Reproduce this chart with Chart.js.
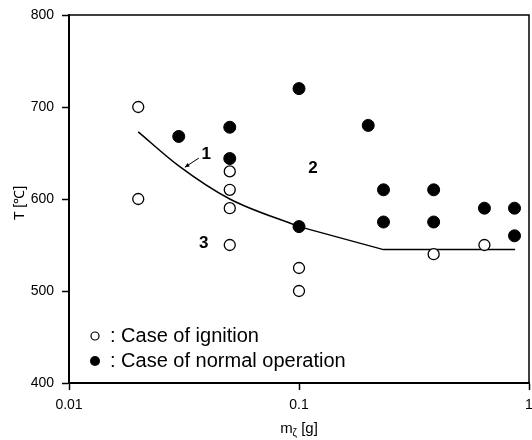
<!DOCTYPE html>
<html><head><meta charset="utf-8">
<script src="https://cdn.jsdelivr.net/npm/chart.js"></script>
<style>html,body{margin:0;padding:0;background:#fff}</style>
</head><body>
<canvas id="c" width="532" height="440"></canvas>
<script>
const ignitionMass = [0.02, 0.02, 0.05, 0.05, 0.05, 0.05, 0.1, 0.1, 0.385, 0.64];
const ignitionTemp = [700, 600, 630, 610, 590, 550, 525, 500, 540, 550];
const normalMass = [0.03, 0.05, 0.05, 0.1, 0.1, 0.2, 0.233, 0.233, 0.385, 0.385, 0.64, 0.865, 0.865];
const normalTemp = [668, 678, 644, 720, 570, 680, 610, 575, 610, 575, 590, 590, 560];
// boundary line 1: curved part, then straight part
const boundaryCurveMass = [0.02, 0.03, 0.05, 0.1];
const boundaryCurveTemp = [673, 636, 600, 570];
const boundaryStraightMass = [0.1, 0.233, 0.87];
const boundaryStraightTemp = [570, 545, 545];
const xTicks = [0.01, 0.1, 1];
const xTickLabels = ['0.01', '0.1', '1'];
const yTicks = [400, 500, 600, 700, 800];
const legendLabels = [': Case of ignition', ': Case of normal operation'];
const regionLabels = ['1', '2', '3'];

// annotation anchors (data units)
const regionAnchors = [{x: 0.0395, y: 650}, {x: 0.115, y: 635}, {x: 0.0385, y: 553}];
const leader = [{x: 0.0319, y: 634.5}, {x: 0.0367, y: 644.5}];

const FONT = '"Liberation Sans", Arial, Helvetica, sans-serif';
const zip = (xs, ys) => xs.map((v, i) => ({x: v, y: ys[i]}));

const decor = {
  id: 'decor',
  afterDraw(chart) {
    const {ctx, chartArea: a, scales: {x, y}} = chart;
    ctx.save();
    ctx.strokeStyle = '#000';
    ctx.fillStyle = '#000';
    // top & right frame
    ctx.lineWidth = 1.5;
    ctx.beginPath();
    ctx.moveTo(a.left, a.top); ctx.lineTo(a.right, a.top); ctx.lineTo(a.right, a.bottom);
    ctx.stroke();
    // leader line for label 1
    ctx.lineWidth = 1;
    const p0 = {x: x.getPixelForValue(leader[0].x), y: y.getPixelForValue(leader[0].y)};
    const p1 = {x: x.getPixelForValue(leader[1].x), y: y.getPixelForValue(leader[1].y)};
    ctx.beginPath(); ctx.moveTo(p0.x, p0.y); ctx.lineTo(p1.x, p1.y); ctx.stroke();
    const ang = Math.atan2(p1.y - p0.y, p1.x - p0.x);
    ctx.beginPath();
    ctx.moveTo(p0.x, p0.y);
    ctx.lineTo(p0.x + 5 * Math.cos(ang - 0.45), p0.y + 5 * Math.sin(ang - 0.45));
    ctx.lineTo(p0.x + 5 * Math.cos(ang + 0.45), p0.y + 5 * Math.sin(ang + 0.45));
    ctx.closePath(); ctx.fill();
    // region labels
    ctx.font = 'bold 17px ' + FONT;
    ctx.textAlign = 'center'; ctx.textBaseline = 'alphabetic';
    regionLabels.forEach((t, i) => {
      ctx.fillText(t, x.getPixelForValue(regionAnchors[i].x), y.getPixelForValue(regionAnchors[i].y) + 6);
    });
    // legend
    const lx = a.left + 26;
    ctx.lineWidth = 1.2;
    ctx.beginPath(); ctx.arc(lx, a.bottom - 47, 4, 0, Math.PI * 2);
    ctx.fillStyle = '#fff'; ctx.fill(); ctx.stroke();
    ctx.fillStyle = '#000';
    ctx.beginPath(); ctx.arc(lx, a.bottom - 22, 5, 0, Math.PI * 2); ctx.fill();
    ctx.font = '20px ' + FONT;
    ctx.textAlign = 'left';
    ctx.fillText(legendLabels[0], a.left + 41, a.bottom - 41);
    ctx.fillText(legendLabels[1], a.left + 41, a.bottom - 16);
    // x axis title with subscript
    const base = 433;
    ctx.font = '15px ' + FONT;
    const w1 = ctx.measureText('m').width;
    const w3 = ctx.measureText(' [g]').width;
    ctx.font = '10px ' + FONT;
    const w2 = ctx.measureText('ζ').width;
    let tx = (a.left + a.right) / 2 - (w1 + w2 + w3) / 2;
    ctx.font = '15px ' + FONT;
    ctx.fillText('m', tx, base); tx += w1;
    ctx.font = '10px ' + FONT;
    ctx.fillText('ζ', tx, base + 3); tx += w2;
    ctx.font = '15px ' + FONT;
    ctx.fillText(' [g]', tx, base);
    // y axis title
    ctx.save();
    ctx.translate(20, (a.top + a.bottom) / 2 + 4);
    ctx.rotate(-Math.PI / 2);
    ctx.font = '14px ' + FONT;
    ctx.textAlign = 'center'; ctx.textBaseline = 'middle';
    ctx.fillText('T [℃]', 0, 0);
    ctx.restore();
    ctx.restore();
  }
};

const lineStyle = {type: 'line', showLine: true, pointRadius: 0, borderColor: '#000', borderWidth: 1.5, fill: false, order: 3};

new Chart(document.getElementById('c'), {
  type: 'scatter',
  data: {
    datasets: [
      {
        label: 'Case of ignition',
        data: zip(ignitionMass, ignitionTemp),
        pointStyle: 'circle', pointRadius: 5.5,
        pointBackgroundColor: '#fff', pointBorderColor: '#000', pointBorderWidth: 1.3,
        order: 2
      },
      {
        label: 'Case of normal operation',
        data: zip(normalMass, normalTemp),
        pointStyle: 'circle', pointRadius: 6,
        pointBackgroundColor: '#000', pointBorderColor: '#000', pointBorderWidth: 1,
        order: 1
      },
      Object.assign({label: 'Boundary 1 (curve)', data: zip(boundaryCurveMass, boundaryCurveTemp), cubicInterpolationMode: 'monotone'}, lineStyle),
      Object.assign({label: 'Boundary 1 (straight)', data: zip(boundaryStraightMass, boundaryStraightTemp), tension: 0}, lineStyle)
    ]
  },
  options: {
    responsive: false,
    animation: false,
    events: [],
    layout: {autoPadding: false, padding: {top: 15, right: 3, left: 0, bottom: 0}},
    plugins: {legend: {display: false}, tooltip: {enabled: false}},
    scales: {
      x: {
        type: 'logarithmic',
        min: 0.01, max: 1,
        afterBuildTicks: s => { s.ticks = xTicks.map(v => ({value: v})); },
        afterFit: s => { s.height = 57; s.paddingLeft = 0; s.paddingRight = 0; },
        ticks: {
          color: '#000', font: {family: FONT, size: 14}, padding: 7,
          maxRotation: 0, autoSkip: false,
          callback: v => { const i = xTicks.indexOf(v); return i >= 0 ? xTickLabels[i] : ''; }
        },
        grid: {display: true, drawOnChartArea: false, drawTicks: true, tickLength: 7, tickColor: '#000', tickWidth: 1.5, color: '#000'},
        border: {display: true, color: '#000', width: 2}
      },
      y: {
        min: 400, max: 800,
        afterBuildTicks: s => { s.ticks = yTicks.map(v => ({value: v})); },
        afterFit: s => { s.width = 69; s.paddingTop = 0; s.paddingBottom = 0; },
        ticks: {color: '#000', font: {family: FONT, size: 14}, padding: 8, callback: v => String(v)},
        grid: {display: true, drawOnChartArea: false, drawTicks: true, tickLength: 7, tickColor: '#000', tickWidth: 1.5, color: '#000'},
        border: {display: true, color: '#000', width: 2}
      }
    }
  },
  plugins: [decor]
});
</script>
</body></html>
